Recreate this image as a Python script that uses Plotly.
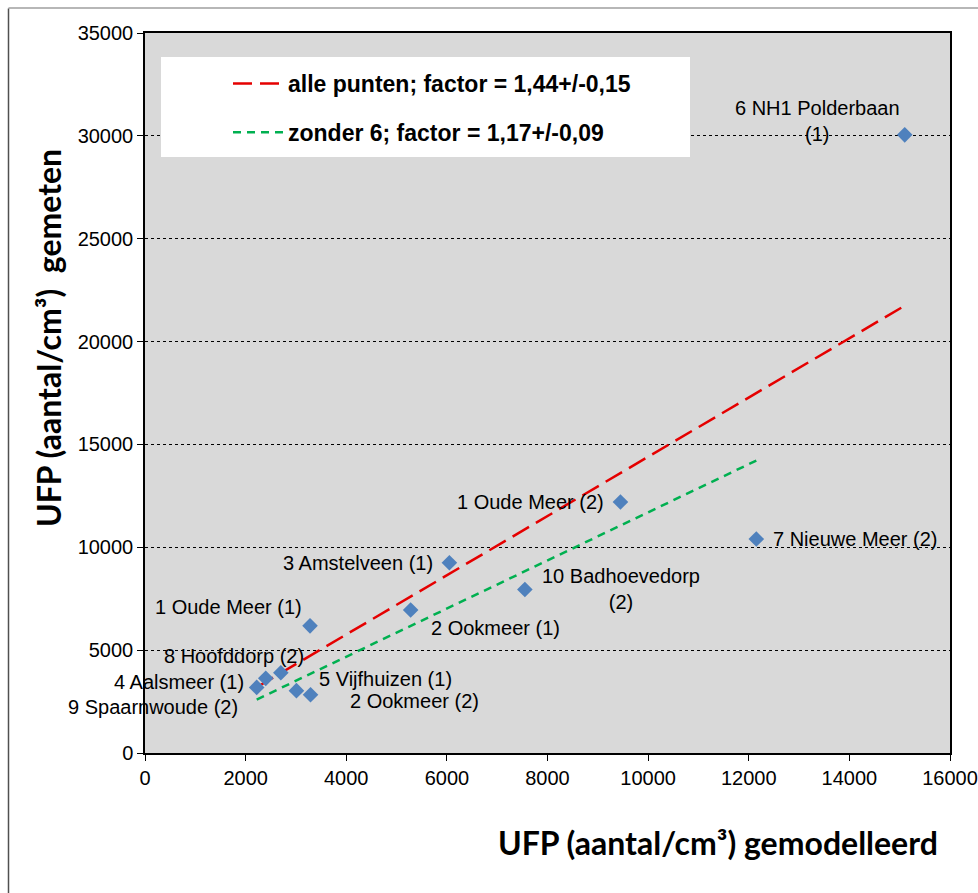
import plotly.graph_objects as go

# ---------------- data ----------------
labels = ["6 NH1 Polderbaan<br>(1)", "1 Oude Meer (2)", "7 Nieuwe Meer (2)",
          "3 Amstelveen (1)", "10 Badhoevedorp<br>(2)", "2 Ookmeer (1)",
          "1 Oude Meer (1)", "8 Hoofddorp (2)", "4 Aalsmeer (1)",
          "9 Spaarnwoude (2)", "5 Vijfhuizen (1)", "2 Ookmeer (2)"]
modelled = [15100, 9450, 12150, 6050, 7550, 5280, 3280, 2700, 2400, 2220, 3010, 3290]
measured = [30050, 12200, 10400, 9250, 7950, 6950, 6180, 3900, 3630, 3190, 3030, 2830]
factor_all = 1.44
factor_excl = 1.17
excluded_index = 0
legend_all = "alle punten; factor = 1,44+/-0,15"
legend_excl = "zonder 6; factor = 1,17+/-0,09"
x_ticks = [0, 2000, 4000, 6000, 8000, 10000, 12000, 14000, 16000]
y_ticks = [0, 5000, 10000, 15000, 20000, 25000, 30000, 35000]
x_title = "UFP (aantal/cm³) gemodelleerd"
y_title = "UFP (aantal/cm³)  gemeten"

# label placement styles (anchor, xshift px, yshift px)
label_style = [("center", -87, 14), ("right", -14, 0), ("left", 15, 0),
               ("right", -14, 0), ("center", 96, 0), ("left", 18, -18),
               ("right", -6, 19), ("right", 25, 17), ("right", -20, -4),
               ("right", -17, -20), ("left", 21, 12), ("left", 37, -6)]

W, H = 978, 893
X0, Y0, X1, Y1 = 145, 753, 950, 33  # plot-area edges in page pixels
ML, MR, MT, MB = X0, W - X1, Y1, H - Y0
PW, PH = W - ML - MR, H - MT - MB


def px(xp):  # page pixel x -> paper
    return (xp - X0) / PW


def py(yp):  # page pixel y -> paper
    return (Y0 - yp) / PH


TICKFONT = dict(family="Liberation Sans, Arial", size=20, color="#000000")
TITLEFONT = dict(family="Lato, Carlito, Calibri", size=32, color="#000000", weight="bold")

fig = go.Figure()

# fitted lines through origin
x_all = [min(modelled), max(modelled)]
fig.add_trace(go.Scatter(
    x=x_all, y=[factor_all * v for v in x_all], mode="lines",
    name=legend_all, legendgroup="a",
    line=dict(color="#E50000", width=2.5, dash="19px,8px")))

rest = [v for i, v in enumerate(modelled) if i != excluded_index]
x_ex = [min(rest), max(rest)]
fig.add_trace(go.Scatter(
    x=x_ex, y=[factor_excl * v for v in x_ex], mode="lines",
    name=legend_excl, legendgroup="b",
    line=dict(color="#00B050", width=2.5, dash="8px,6px")))

fig.add_trace(go.Scatter(
    x=modelled, y=measured, mode="markers", showlegend=False,
    marker=dict(symbol="diamond", size=12, color="#4F81BD",
                line=dict(width=0))))

for lab, xv, yv, (anc, dx, dy) in zip(labels, modelled, measured, label_style):
    fig.add_annotation(x=xv, y=yv, text=lab, showarrow=False,
                       xanchor=anc, yanchor="middle", xshift=dx, yshift=dy,
                       align="center", font=dict(family="Liberation Sans, Arial",
                                                 size=20, color="#000000"))

# legend background box
fig.add_shape(type="rect", xref="paper", yref="paper",
              x0=px(161), x1=px(690), y0=py(157), y1=py(57),
              fillcolor="white", line=dict(width=0), layer="above")

# outer chart border (only left and top edges visible)
fig.add_shape(type="line", xref="paper", yref="paper",
              x0=px(8.5), x1=px(8.5), y0=py(H), y1=py(8.5),
              line=dict(color="#505050", width=1.5), layer="above")
fig.add_shape(type="line", xref="paper", yref="paper",
              x0=px(8.5), x1=px(W), y0=py(8), y1=py(8),
              line=dict(color="#707070", width=1.2), layer="above")

# axis titles
fig.add_annotation(xref="paper", yref="paper", x=px(718), y=py(842),
                   text=x_title, showarrow=False, xanchor="center",
                   yanchor="middle", font=TITLEFONT)
fig.add_annotation(xref="paper", yref="paper", x=px(48), y=py(338),
                   text=y_title, showarrow=False, xanchor="center",
                   yanchor="middle", textangle=-90, font=TITLEFONT)

fig.update_layout(
    width=W, height=H,
    margin=dict(l=ML, r=MR, t=MT, b=MB, autoexpand=False),
    paper_bgcolor="white", plot_bgcolor="#D9D9D9",
    showlegend=True,
    legend=dict(x=px(228), y=py(62), xanchor="left", yanchor="top",
                bgcolor="rgba(0,0,0,0)", traceorder="grouped",
                tracegroupgap=16, itemwidth=50,
                font=dict(family="Liberation Sans, Arial", size=23,
                          color="#000000", weight="bold")),
    xaxis=dict(range=[0, 16000], tickvals=x_ticks, tickformat="d",
               ticks="outside", ticklen=6, tickcolor="#000000",
               showgrid=False, zeroline=False, showline=True,
               linecolor="#000000", linewidth=1.5, mirror=True,
               automargin=False, ticklabeloverflow="allow",
               tickfont=TICKFONT),
    yaxis=dict(range=[0, 35000], tickvals=y_ticks, tickformat="d",
               ticks="outside", ticklen=6, tickcolor="#000000",
               showgrid=True, gridcolor="#000000", gridwidth=1,
               griddash="dot", zeroline=False, showline=True,
               linecolor="#000000", linewidth=1.5, mirror=True,
               automargin=False, tickfont=TICKFONT),
)

fig.write_html(
    "out.html",
    config={"displayModeBar": False},
    post_script="document.body.style.margin='0';"
                "document.documentElement.style.overflow='hidden';",
)
